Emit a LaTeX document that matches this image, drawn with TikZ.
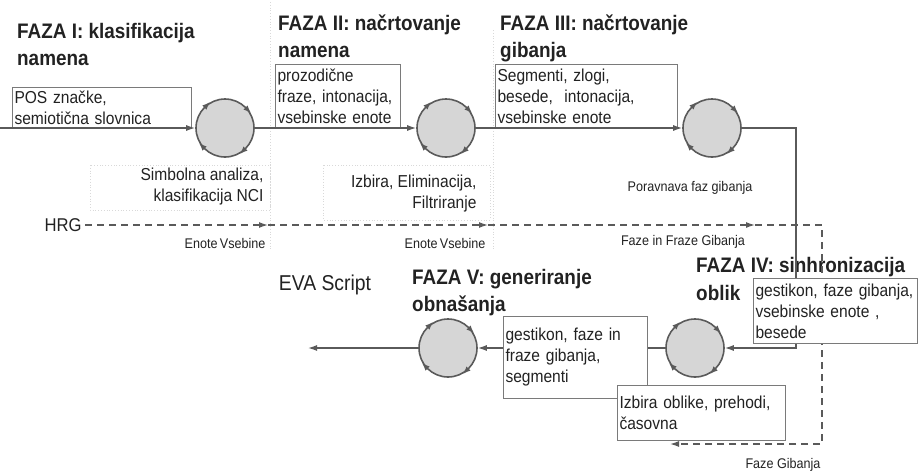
\documentclass[tikz,border=0pt]{standalone}
\usepackage{fontspec}
\setmainfont{Liberation Sans}[FakeStretch=0.9]
\usetikzlibrary{arrows.meta,positioning,decorations.markings}

\pgfdeclarelayer{front}
\pgfsetlayers{main,front}

\definecolor{linegray}{HTML}{5A5A5A}
\definecolor{boxgray}{HTML}{7A7A7A}
\definecolor{textgray}{HTML}{222222}
\definecolor{discfill}{HTML}{D6D6D6}

\newcommand{\bodytext}{\fontsize{17.3}{21}\selectfont}
\newcommand{\phasetext}{\fontsize{21}{27}\selectfont\bfseries}
\newcommand{\lblfont}{\fontsize{14}{16}\selectfont}
\newcommand{\evatext}{\fontsize{21.5}{24}\selectfont}

\tikzset{
  disc/.style={circle, draw=linegray, line width=1.6pt, fill=discfill, minimum size=58pt, inner sep=0pt,
    postaction={decorate},
    decoration={markings,
      mark=at position 0.125 with {\arrow[linegray]{Latex[length=8pt,width=6pt,reversed]}},
      mark=at position 0.375 with {\arrow[linegray]{Latex[length=8pt,width=6pt,reversed]}},
      mark=at position 0.625 with {\arrow[linegray]{Latex[length=8pt,width=6pt,reversed]}},
      mark=at position 0.875 with {\arrow[linegray]{Latex[length=8pt,width=6pt,reversed]}}}},
  plain/.style={draw=linegray, line width=1.3pt},
  flow/.style={plain, -{Latex[length=9pt,width=6pt]}},
  hrgflow/.style={flow, dash pattern=on 7pt off 5pt},
  infobox/.style={draw=boxgray, line width=1pt, fill=white, anchor=north west, align=left,
    inner xsep=2pt, inner ysep=1pt, font=\bodytext, text=textgray},
  phase/.style={anchor=north west, align=left, inner sep=0pt, font=\phasetext, text=textgray},
  note/.style={font=\bodytext, text=textgray},
  lbl/.style={font=\lblfont, text=textgray},
  guide/.style={draw=black!15, dotted, line width=0.8pt}
}

\begin{document}
\begin{tikzpicture}[x=1pt, y=-1pt]
  \useasboundingbox (0,0) rectangle (918,472);

  % faint guides
  \draw[guide] (270,2) -- (270,250);
  \draw[guide] (493,30) -- (493,250);
  \draw[guide] (90,165) rectangle (270,210);
  \draw[guide] (323,165) rectangle (490,220);

  % phase titles
  \node[phase] (faza1) at (17,23) {FAZA I: klasifikacija\\namena};
  \node[phase] (faza2) at (278,15) {FAZA II: načrtovanje\\namena};
  \node[phase] (faza3) at (500,15) {FAZA III: načrtovanje\\gibanja};
  \node[phase, font=\fontsize{21}{28}\selectfont\bfseries] (faza4) at (696,257) {FAZA IV: sinhronizacija\\oblik};
  \node[phase] (faza5) at (412,269) {FAZA V: generiranje\\obnašanja};

  % processes
  \node[disc] (c1) at (225,128) {};
  \node[disc] (c2) at (446,128) {};
  \node[disc] (c3) at (712,128) {};
  \node[disc] (c4) at (695,348) {};
  \node[disc] (c5) at (448,348) {};

  % data boxes
  \node[infobox, text width=175pt, minimum height=41pt] (pos) at (12,87) {POS značke,\\semiotična slovnica};
  \node[infobox, text width=121pt, minimum height=64pt] (prozod) at (275,64) {prozodične\\fraze, intonacija,\\vsebinske enote};
  \node[infobox, text width=178pt, minimum height=64pt] (segm) at (495,64) {Segmenti, zlogi,\\besede,~ intonacija,\\vsebinske enote};
  \begin{pgfonlayer}{front}
    \node[infobox, text width=160pt, minimum height=65pt] (gest4) at (753,278) {gestikon, faze gibanja,\\vsebinske enote ,\\besede};
  \end{pgfonlayer}
  \node[infobox, text width=140pt, minimum height=82pt] (gest5) at (503,316) {gestikon, faze in\\fraze gibanja,\\segmenti};
  \node[infobox, text width=164pt, minimum height=55pt] (oblike) at (617,385) {Izbira oblike, prehodi,\\časovna};

  % labels
  \node[note, anchor=east, align=right] (simbolna) at (267,187) {Simbolna analiza,\\klasifikacija NCI};
  \node[note, anchor=east, align=right] (izbira) at (480,194) {Izbira, Eliminacija,\\Filtriranje};
  \node[lbl] (poravnava) at (690,188) {Poravnava faz gibanja};
  \node[lbl] (enote1) at (225,243) {Enote\,Vsebine};
  \node[lbl] (enote2) at (445,243) {Enote\,Vsebine};
  \node[lbl] (fazein) at (683,242) {Faze in Fraze Gibanja};
  \node[lbl] (fazegib) at (783,465) {Faze Gibanja};
  \node[note, font=\fontsize{18.5}{21}\selectfont] (hrg) at (63,225) {HRG};
  \node[font=\evatext, text=textgray] (eva) at (325,285) {EVA Script};

  % main flow
  \coordinate (start) at (0,128);
  \coordinate (turn) at (796,128);
  \coordinate (evaend) at (308,348);
  \draw[flow] (start) -- (c1);
  \draw[flow] (c1) -- (c2);
  \draw[flow] (c2) -- (c3);
  \draw[flow] (c3) -- (turn) |- (c4);
  \draw[plain] (c4.west) -- (c4.west -| gest5.east);
  \draw[flow] (gest5.west |- c5.east) -- (c5.east);
  \draw[flow] (c5) -- (evaend);

  % HRG stream
  \coordinate (h1) at (268,225);
  \coordinate (h2) at (488,225);
  \coordinate (h3) at (755,225);
  \coordinate (hcorner) at (822,225);
  \coordinate (hdown) at (822,444);
  \coordinate (hend) at (670,444);
  \draw[hrgflow] (hrg) -- (h1);
  \draw[hrgflow] (h1) -- (h2);
  \draw[hrgflow] (h2) -- (h3);
  \draw[hrgflow] (h3) -- (hcorner) -- (hdown) -- (hend);
\end{tikzpicture}
\end{document}
